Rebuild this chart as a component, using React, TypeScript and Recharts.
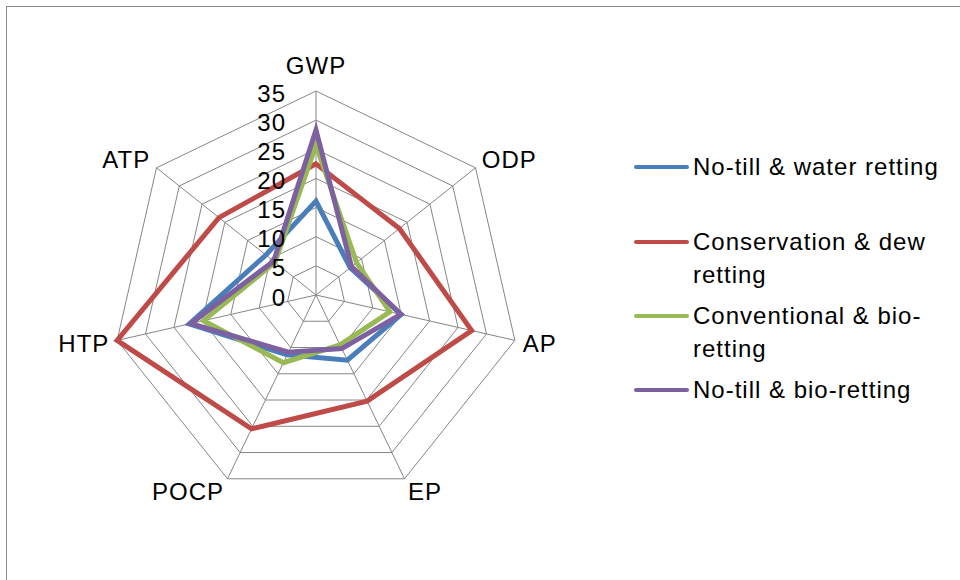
import React from "react";
import { RadarChart, Radar, PolarGrid, PolarAngleAxis, PolarRadiusAxis, Legend } from "recharts";

const categories = ["GWP", "ODP", "AP", "EP", "POCP", "HTP", "ATP"];
const noTillWater = [16.1, 7.5, 15.0, 12.4, 11.4, 22.3, 11.0];
const conservationDew = [22.5, 18.3, 27.4, 20.2, 25.5, 35.0, 21.3];
const conventionalBio = [25.7, 8.9, 13.0, 9.5, 12.9, 19.8, 9.0];
const noTillBio = [28.3, 7.8, 14.9, 10.2, 10.9, 22.0, 9.3];
const radiusTicks = [0, 5, 10, 15, 20, 25, 30, 35];

const seriesNames = [
  "No-till & water retting",
  "Conservation & dew retting",
  "Conventional & bio-retting",
  "No-till & bio-retting",
];
const COLORS = ["#4a7ebb", "#be4b48", "#98b954", "#7d60a0"];

const data = categories.map((name, i) => ({
  name,
  s0: noTillWater[i],
  s1: conservationDew[i],
  s2: conventionalBio[i],
  s3: noTillBio[i],
}));

const FONT = "'Liberation Sans', Arial, sans-serif";
const CX = 310;
const CY = 289;
const R = 204;

const AngleTick = (props: any) => {
  const { x, y, payload, textAnchor } = props;
  const uy = (y - CY) / (R + 8);
  const dy = textAnchor === "middle" ? (uy < 0 ? -18 : 10) : uy * 6;
  return (
    <text
      x={x}
      y={y + dy}
      textAnchor={textAnchor}
      dominantBaseline="central"
      fontSize={24}
      letterSpacing={1}
      fontFamily={FONT}
      fill="#000"
    >
      {payload.value}
    </text>
  );
};

const RadiusTick = (props: any) => {
  const { x, y, payload } = props;
  return (
    <text
      x={x - 30}
      y={y + 2}
      textAnchor="end"
      dominantBaseline="central"
      fontSize={24}
      letterSpacing={1}
      fontFamily={FONT}
      fill="#000"
    >
      {payload.value}
    </text>
  );
};

// legend rows sit at uneven gaps in the original
const legendGaps = [0, 42, 8, 8];

const renderLegend = () => (
  <div style={{ fontFamily: FONT, fontSize: 24, letterSpacing: 1, lineHeight: "33px", color: "#000" }}>
    {seriesNames.map((n, i) => (
      <div key={n} style={{ display: "flex", alignItems: "flex-start", marginTop: legendGaps[i] }}>
        <div style={{ width: 55, height: 33, display: "flex", alignItems: "center", marginRight: 4, flexShrink: 0 }}>
          <div style={{ width: 55, height: 4, borderRadius: 2, background: COLORS[i] }} />
        </div>
        <div style={{ width: 250 }}>{n}</div>
      </div>
    ))}
  </div>
);

export default function App() {
  return (
    <div
      style={{
        position: "fixed",
        left: 6,
        top: 6,
        width: 954,
        height: 574,
        overflow: "hidden",
        background: "#fff",
        borderTop: "1px solid #898989",
        borderLeft: "1px solid #898989",
        boxSizing: "border-box",
      }}
    >
      <RadarChart
        width={953}
        height={573}
        data={data}
        cx={CX - 1}
        cy={CY - 1}
        outerRadius={R}
        margin={{ top: 0, right: 0, bottom: 0, left: 0 }}
      >
        <PolarGrid gridType="polygon" stroke="#868686" strokeWidth={1} />
        <PolarAngleAxis dataKey="name" tick={<AngleTick />} tickLine={false} axisLine={false} />
        <PolarRadiusAxis
          angle={90}
          domain={[0, 35]}
          ticks={radiusTicks}
          tick={<RadiusTick />}
          axisLine={false}
          tickLine={false}
        />
        {seriesNames.map((n, i) => (
          <Radar
            key={n}
            name={n}
            dataKey={`s${i}`}
            stroke={COLORS[i]}
            strokeWidth={5}
            strokeLinejoin="miter"
            fill="none"
            fillOpacity={0}
            isAnimationActive={false}
          />
        ))}
        <Legend content={renderLegend} wrapperStyle={{ left: 627, top: 143, width: 320 }} />
      </RadarChart>
    </div>
  );
}
